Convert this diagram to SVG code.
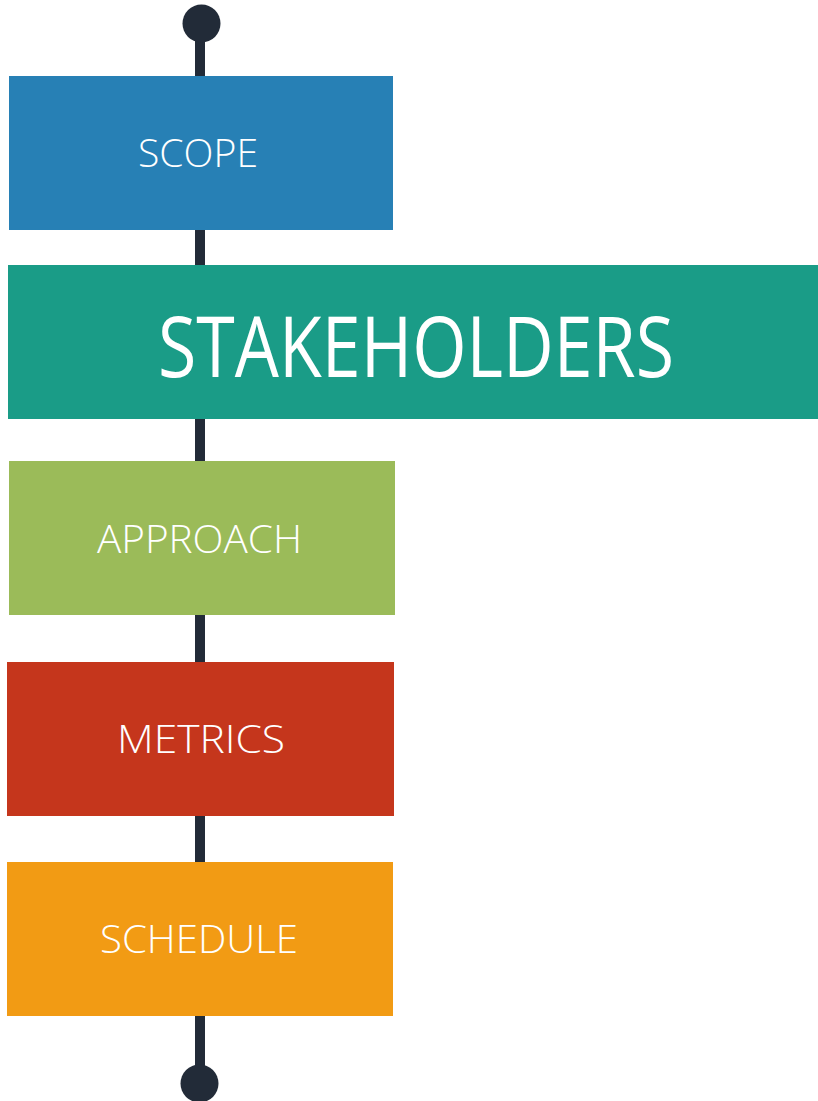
<svg xmlns="http://www.w3.org/2000/svg" width="818" height="1101" viewBox="0 0 818 1101">
  <style>
    .spine { fill: #222B38; }
    .label { fill: #FFFFFF; font-family: "Open Sans", "Liberation Sans", sans-serif; font-weight: 300; font-size: 39px; }
    .big { font-weight: 400; font-size: 84px; }
  </style>
  <rect width="818" height="1101" fill="#FFFFFF"/>
  <!-- timeline spine with end caps -->
  <g id="connectors">
    <rect class="spine" x="195" y="24" width="10" height="1060"/>
    <circle class="spine" cx="201.5" cy="23.5" r="19"/>
    <circle class="spine" cx="199.5" cy="1083.5" r="19"/>
  </g>
  <g id="scope">
    <rect x="9" y="76" width="384" height="154" fill="#2780B5"/>
    <text class="label" x="138" y="167" textLength="120" lengthAdjust="spacingAndGlyphs">SCOPE</text>
  </g>
  <g id="stakeholders">
    <rect x="8" y="265" width="810" height="154" fill="#1A9C87"/>
    <text class="label big" x="158" y="377" textLength="516" lengthAdjust="spacingAndGlyphs">STAKEHOLDERS</text>
  </g>
  <g id="approach">
    <rect x="9" y="461" width="386" height="154" fill="#9BBB59"/>
    <text class="label" x="97" y="553" textLength="205" lengthAdjust="spacingAndGlyphs">APPROACH</text>
  </g>
  <g id="metrics">
    <rect x="7" y="662" width="387" height="154" fill="#C5361C"/>
    <text class="label" x="117" y="753" textLength="168" lengthAdjust="spacingAndGlyphs">METRICS</text>
  </g>
  <g id="schedule">
    <rect x="7" y="862" width="386" height="154" fill="#F29B14"/>
    <text class="label" x="100" y="953" textLength="198" lengthAdjust="spacingAndGlyphs">SCHEDULE</text>
  </g>
</svg>
